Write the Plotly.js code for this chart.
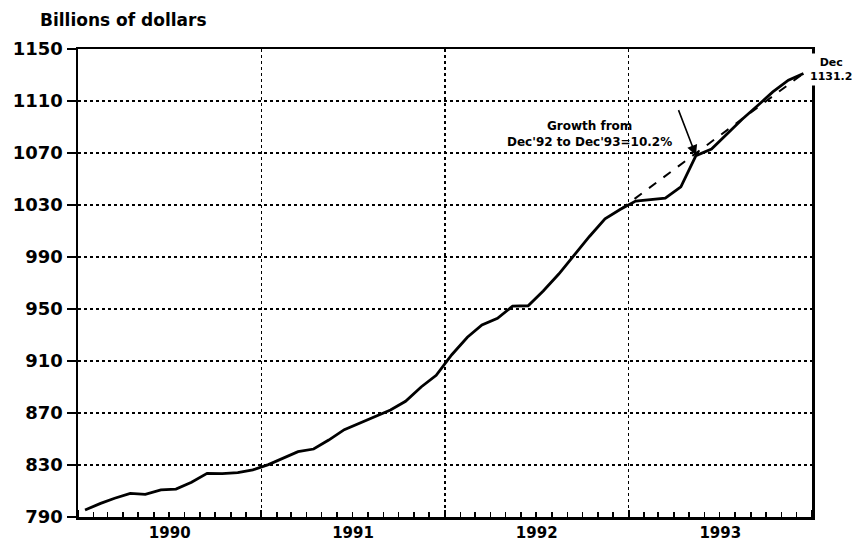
<!DOCTYPE html>
<html>
<head>
<meta charset="utf-8">
<script src="https://cdn.plot.ly/plotly-3.0.1.min.js"></script>
<style>html,body{margin:0;padding:0;background:#fff;}#chart{width:852px;height:547px;}</style>
</head>
<body>
<div id="chart"></div>
<script>
// Monthly values, billions of dollars (Jan..Dec)
const years = [1990, 1991, 1992, 1993];
const m1_1990 = [795.4, 800.5, 804.4, 808.2, 807.4, 810.8, 811.5, 816.7, 823.6, 823.3, 824.1, 826.2];
const m1_1991 = [830.3, 835.6, 840.3, 842.3, 849.2, 857.2, 862.3, 867.4, 872.3, 879.0, 890.0, 899.0];
const m1_1992 = [914.8, 928.3, 937.7, 942.8, 952.2, 952.5, 963.9, 976.9, 991.4, 1005.8, 1019.3, 1026.5];
const m1_1993 = [1033.0, 1034.0, 1035.2, 1044.0, 1068.0, 1073.0, 1084.0, 1096.0, 1106.5, 1117.0, 1126.0, 1131.2];
const yearTickLabels = ['1990', '1991', '1992', '1993'];
const growthText = "Growth from<br>Dec'92 to Dec'93=10.2%";
const endLabel = 'Dec<br>1131.2';

const seriesByYear = [m1_1990, m1_1991, m1_1992, m1_1993];
const xs = [], ys = [];
years.forEach((yr, i) => {
  seriesByYear[i].forEach((v, m) => {
    const mm = String(m + 1).padStart(2, '0');
    xs.push(yr + '-' + mm + '-15');
    ys.push(v);
  });
});
const decStart = { x: xs[35], y: ys[35] };
const decEnd = { x: xs[47], y: ys[47] };
const mayPt = { x: xs[40], y: ys[40] };

const font = 'DejaVu Sans, sans-serif';

const traces = [
  { x: xs, y: ys, type: 'scatter', mode: 'lines',
    line: { color: '#000', width: 2.8, shape: 'linear' }, hoverinfo: 'skip' },
  { x: [decStart.x, decEnd.x], y: [decStart.y, decEnd.y], type: 'scatter', mode: 'lines',
    line: { color: '#000', width: 2, dash: 'dash' }, hoverinfo: 'skip' }
];

const layout = {
  width: 852, height: 547,
  margin: { l: 78, r: 40, t: 49, b: 30 },
  paper_bgcolor: '#fff', plot_bgcolor: '#fff',
  showlegend: false,
  font: { family: font, color: '#000' },
  title: { text: 'Billions of dollars', xref: 'container', yref: 'container',
           x: 40 / 852, xanchor: 'left', y: 1 - 20 / 547, yanchor: 'middle',
           font: { family: font, size: 17, color: '#000', weight: 'bold' } },
  xaxis: {
    type: 'date',
    range: ['1990-01-01', '1994-01-01'],
    tick0: '1990-01-01', dtick: 'M12',
    ticklabelmode: 'period',
    tickformat: '%Y',
    ticks: 'inside', ticklen: 7, tickwidth: 2, tickcolor: '#000',
    showline: true, linewidth: 2.5, linecolor: '#000', mirror: true,
    showgrid: true, gridcolor: '#000', gridwidth: 1.6, griddash: 'dot',
    zeroline: false,
    tickfont: { family: font, size: 15, color: '#000', weight: 'bold' },
    minor: { dtick: 'M1', tick0: '1990-01-01', ticks: 'inside', ticklen: 5, tickwidth: 1.6, tickcolor: '#000', showgrid: false }
  },
  yaxis: {
    range: [790, 1150],
    tick0: 790, dtick: 40,
    ticks: 'outside', ticklen: 9, tickwidth: 2, tickcolor: '#000',
    showline: true, linewidth: 2.5, linecolor: '#000', mirror: true,
    showgrid: true, gridcolor: '#000', gridwidth: 1.6, griddash: 'dot',
    zeroline: false,
    tickfont: { family: font, size: 18, color: '#000', weight: 'bold' }
  },
  annotations: [
    { xref: 'paper', yref: 'paper', x: (589 - 78) / 734, y: (517 - 134) / 468,
      xanchor: 'center', yanchor: 'middle', showarrow: false, align: 'center',
      text: growthText, font: { family: font, size: 12, color: '#000', weight: 'bold' } },
    { x: mayPt.x, y: mayPt.y, xref: 'x', yref: 'y', text: '', showarrow: true,
      ax: -18, ay: -47, arrowhead: 2, arrowsize: 1.3, arrowwidth: 1.6, arrowcolor: '#000' },
    { xref: 'paper', yref: 'paper', x: 1.026, y: 0.957, xanchor: 'center', yanchor: 'middle',
      showarrow: false, align: 'center', bgcolor: '#fff', borderpad: 2,
      text: endLabel, font: { family: font, size: 11, color: '#000', weight: 'bold' } }
  ]
};

Plotly.newPlot('chart', traces, layout, { displayModeBar: false, staticPlot: true });
</script>
</body>
</html>
